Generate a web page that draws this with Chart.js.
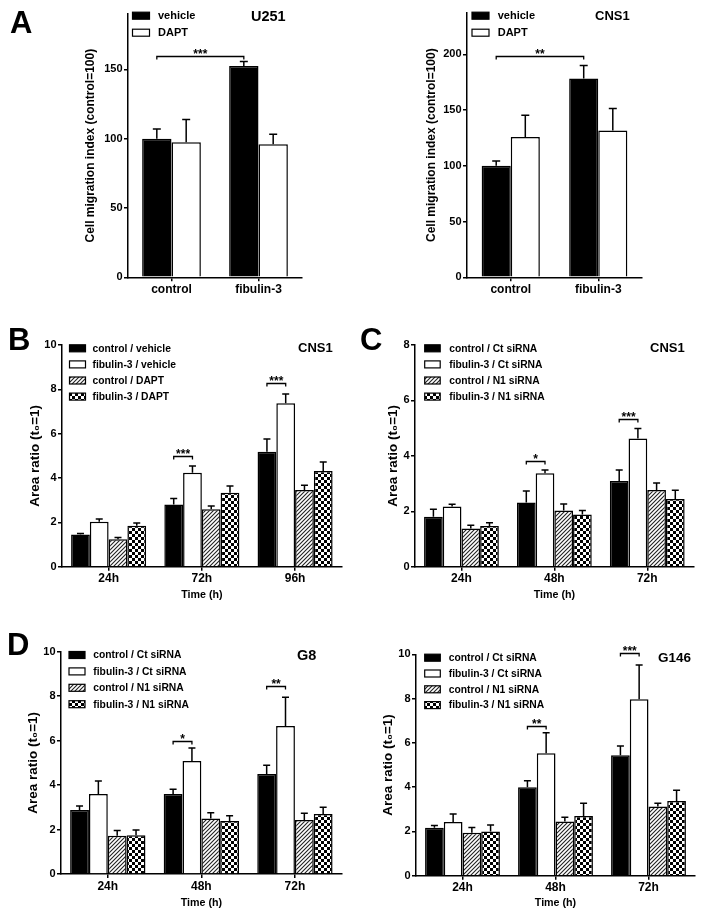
<!DOCTYPE html>
<html>
<head>
<meta charset="utf-8">
<script src="https://cdn.jsdelivr.net/npm/chart.js@4.4.1/dist/chart.umd.min.js"></script>
<style>
body { margin: 0; background: #fff; }
#page { position: relative; width: 704px; height: 918px; font-family: "Liberation Sans", Arial, sans-serif; color: #000; }
canvas { position: absolute; }
.lbl { position: absolute; font-weight: bold; font-size: 31px; line-height: 31px; }
.ttl { position: absolute; font-weight: bold; font-size: 14px; line-height: 14px; white-space: nowrap; }
</style>
</head>
<body>
<div id="page">
  <canvas id="cA1" width="352" height="300" style="left:0;top:0"></canvas>
  <canvas id="cA2" width="352" height="300" style="left:352px;top:0"></canvas>
  <canvas id="cB" width="352" height="310" style="left:0;top:300px"></canvas>
  <canvas id="cC" width="352" height="310" style="left:352px;top:300px"></canvas>
  <canvas id="cD1" width="352" height="308" style="left:0;top:610px"></canvas>
  <canvas id="cD2" width="352" height="308" style="left:352px;top:610px"></canvas>

  <div class="lbl" style="left:10px;top:7px">A</div>
  <div class="lbl" style="left:8px;top:324px">B</div>
  <div class="lbl" style="left:360px;top:324px">C</div>
  <div class="lbl" style="left:7px;top:629px">D</div>

  <div class="ttl" style="left:251px;top:9px;font-size:14.5px">U251</div>
  <div class="ttl" style="left:595px;top:9px;font-size:13px">CNS1</div>
  <div class="ttl" style="left:298px;top:341px;font-size:13px">CNS1</div>
  <div class="ttl" style="left:650px;top:341px;font-size:13px">CNS1</div>
  <div class="ttl" style="left:297px;top:648px;font-size:14.5px">G8</div>
  <div class="ttl" style="left:658px;top:651px;font-size:13.5px">G146</div>
</div>

<script>
// ---- data ----
const catA = ['control', 'fibulin-3'];
const legA = ['vehicle', 'DAPT'];

// A, U251 (control=100)
const u251Veh = [100, 152.5];
const u251VehErr = [7, 3.3];
const u251Dapt = [97.5, 96];
const u251DaptErr = [16.3, 7.3];

// A, CNS1
const cns1Veh = [100, 178.3];
const cns1VehErr = [4.2, 11.7];
const cns1Dapt = [125.7, 131.7];
const cns1DaptErr = [19.7, 19.7];

// B, CNS1 with DAPT
const catB = ['24h', '72h', '96h'];
const legB = ['control / vehicle', 'fibulin-3 / vehicle', 'control / DAPT', 'fibulin-3 / DAPT'];
const bCtrlVeh = [1.45, 2.81, 5.19];
const bCtrlVehErr = [0.05, 0.27, 0.57];
const bFibVeh = [2.03, 4.24, 7.37];
const bFibVehErr = [0.12, 0.30, 0.42];
const bCtrlDapt = [1.24, 2.59, 3.46];
const bCtrlDaptErr = [0.08, 0.15, 0.21];
const bFibDapt = [1.85, 3.34, 4.32];
const bFibDaptErr = [0.12, 0.30, 0.40];

// C, CNS1 with siRNA
const catSi = ['24h', '48h', '72h'];
const legSi = ['control / Ct siRNA', 'fibulin-3 / Ct siRNA', 'control / N1 siRNA', 'fibulin-3 / N1 siRNA'];
const cCtrlCt = [1.80, 2.32, 3.09];
const cCtrlCtErr = [0.27, 0.41, 0.40];
const cFibCt = [2.17, 3.37, 4.63];
const cFibCtErr = [0.08, 0.12, 0.36];
const cCtrlN1 = [1.38, 2.03, 2.77];
const cCtrlN1Err = [0.12, 0.23, 0.25];
const cFibN1 = [1.47, 1.88, 2.44];
const cFibN1Err = [0.12, 0.15, 0.32];

// D, G8
const g8CtrlCt = [2.88, 3.60, 4.50];
const g8CtrlCtErr = [0.18, 0.21, 0.39];
const g8FibCt = [3.60, 5.08, 6.66];
const g8FibCtErr = [0.58, 0.59, 1.29];
const g8CtrlN1 = [1.72, 2.50, 2.43];
const g8CtrlN1Err = [0.24, 0.26, 0.30];
const g8FibN1 = [1.74, 2.38, 2.70];
const g8FibN1Err = [0.24, 0.24, 0.30];

// D, G146
const g146CtrlCt = [2.17, 3.99, 5.44];
const g146CtrlCtErr = [0.10, 0.30, 0.42];
const g146FibCt = [2.42, 5.53, 7.97];
const g146FibCtErr = [0.37, 0.93, 1.55];
const g146CtrlN1 = [1.94, 2.45, 3.12];
const g146CtrlN1Err = [0.24, 0.19, 0.15];
const g146FibN1 = [2.00, 2.70, 3.37];
const g146FibN1Err = [0.29, 0.57, 0.49];

// significance brackets: a/b = [dataset, category], y = bracket value
const sigA1 = [{ a: [0, 0], b: [0, 1], y: 160, text: '***' }];
const sigA2 = [{ a: [0, 0], b: [0, 1], y: 198, text: '**' }];
const sigB = [{ a: [0, 1], b: [1, 1], y: 5.0, text: '***' }, { a: [0, 2], b: [1, 2], y: 8.3, text: '***' }];
const sigC = [{ a: [0, 1], b: [1, 1], y: 3.83, text: '*' }, { a: [0, 2], b: [1, 2], y: 5.33, text: '***' }];
const sigD1 = [{ a: [0, 1], b: [1, 1], y: 6.0, text: '*' }, { a: [0, 2], b: [1, 2], y: 8.46, text: '**' }];
const sigD2 = [{ a: [0, 1], b: [1, 1], y: 6.78, text: '**' }, { a: [0, 2], b: [1, 2], y: 10.04, text: '***' }];

// ---- drawing ----
const FONT = '"Liberation Sans", Arial, sans-serif';
Chart.defaults.font.family = FONT;
Chart.defaults.color = '#000';

function hatch() {
    const c = document.createElement('canvas');
    c.width = 4; c.height = 4;
    const g = c.getContext('2d');
    g.fillStyle = '#fff'; g.fillRect(0, 0, 4, 4);
    g.strokeStyle = '#222'; g.lineWidth = 1.1;
    g.beginPath();
    g.moveTo(0, 4); g.lineTo(4, 0);
    g.moveTo(-1, 1); g.lineTo(1, -1);
    g.moveTo(3, 5); g.lineTo(5, 3);
    g.stroke();
    return g.createPattern(c, 'repeat');
}

function checker() {
    const c = document.createElement('canvas');
    c.width = 6; c.height = 6;
    const g = c.getContext('2d');
    g.fillStyle = '#fff'; g.fillRect(0, 0, 6, 6);
    g.fillStyle = '#000';
    g.fillRect(0, 0, 3, 3); g.fillRect(3, 3, 3, 3);
    return g.createPattern(c, 'repeat');
}

const fills = ['#000', '#fff', hatch(), checker()];

const errorBars = {
    id: 'errorBars',
    afterDatasetsDraw(chart, args, o) {
        const ctx = chart.ctx, y = chart.scales.y;
        ctx.save();
        ctx.strokeStyle = '#000';
        ctx.lineWidth = 1.5;
        chart.data.datasets.forEach((ds, i) => {
            chart.getDatasetMeta(i).data.forEach((bar, j) => {
                const top = y.getPixelForValue(ds.data[j] + ds.errors[j]);
                ctx.beginPath();
                ctx.moveTo(bar.x, bar.y);
                ctx.lineTo(bar.x, top);
                ctx.moveTo(bar.x - o.cap / 2, top);
                ctx.lineTo(bar.x + o.cap / 2, top);
                ctx.stroke();
            });
        });
        ctx.restore();
    }
};

const sigBrackets = {
    id: 'sigBrackets',
    afterDatasetsDraw(chart, args, o) {
        const ctx = chart.ctx, y = chart.scales.y;
        ctx.save();
        ctx.strokeStyle = '#000';
        ctx.fillStyle = '#000';
        ctx.lineWidth = 1.3;
        ctx.font = 'bold 12px ' + FONT;
        ctx.textAlign = 'center';
        ctx.textBaseline = 'alphabetic';
        (o.items || []).forEach(it => {
            const x0 = chart.getDatasetMeta(it.a[0]).data[it.a[1]].x;
            const x1 = chart.getDatasetMeta(it.b[0]).data[it.b[1]].x;
            const py = Math.round(y.getPixelForValue(it.y)) + 0.5;
            ctx.beginPath();
            ctx.moveTo(x0, py + 3);
            ctx.lineTo(x0, py);
            ctx.lineTo(x1, py);
            ctx.lineTo(x1, py + 3);
            ctx.stroke();
            ctx.fillText(it.text, (x0 + x1) / 2, py + 1);
        });
        ctx.restore();
    }
};

const boxLegend = {
    id: 'boxLegend',
    afterDraw(chart, args, o) {
        const ctx = chart.ctx;
        ctx.save();
        ctx.font = 'bold ' + o.size + 'px ' + FONT;
        ctx.textBaseline = 'middle';
        chart.data.datasets.forEach((ds, i) => {
            const cy = o.y + i * o.rowH;
            ctx.fillStyle = ds.backgroundColor;
            ctx.fillRect(o.x, cy - o.boxH / 2, o.boxW, o.boxH);
            ctx.strokeStyle = '#000';
            ctx.lineWidth = 1.2;
            ctx.strokeRect(o.x, cy - o.boxH / 2, o.boxW, o.boxH);
            ctx.fillStyle = '#000';
            ctx.fillText(ds.label, o.x + o.boxW + o.gap, cy + 0.5);
        });
        ctx.restore();
    }
};

function makeChart(id, p) {
    const canvas = document.getElementById(id);
    const f = p.frame;
    const yT = p.yTitleSize * 1.2 / 2 + 4;
    const padLeft = f.yTitleX - yT;
    const yW = f.left - padLeft;
    let xH = 20;
    if (p.xTitle) xH = f.xTitleY - f.bottom + 10.7 * 1.2 / 2 + 4;
    const padBottom = canvas.height - f.bottom - xH;

    new Chart(canvas, {
        type: 'bar',
        data: {
            labels: p.labels,
            datasets: p.series.map((s, i) => ({
                label: p.legend[i],
                data: s[0],
                errors: s[1],
                backgroundColor: fills[i],
                borderColor: '#000',
                borderWidth: 1.5,
                categoryPercentage: p.catPct,
                barPercentage: 1.0
            }))
        },
        options: {
            responsive: false,
            animation: false,
            layout: { padding: { left: padLeft, top: f.top, right: canvas.width - f.right, bottom: padBottom } },
            plugins: {
                legend: { display: false },
                tooltip: { enabled: false },
                errorBars: { cap: p.cap },
                sigBrackets: { items: p.sig },
                boxLegend: p.leg
            },
            scales: {
                x: {
                    grid: { display: true, offset: false, drawOnChartArea: false, drawTicks: true, tickLength: 4, color: '#000', lineWidth: 1.5 },
                    border: { display: true, color: '#000', width: 1.5 },
                    ticks: { color: '#000', padding: 1, font: { size: 12, weight: 'bold' } },
                    title: { display: !!p.xTitle, text: p.xTitle || '', color: '#000', font: { size: 10.7, weight: 'bold' } },
                    afterFit: s => { s.height = xH; }
                },
                y: {
                    min: 0,
                    max: p.max,
                    grid: { display: true, drawOnChartArea: false, drawTicks: true, tickLength: 4, color: '#000', lineWidth: 1.5 },
                    border: { display: true, color: '#000', width: 1.5 },
                    ticks: { stepSize: p.step, includeBounds: false, color: '#000', padding: 1.5, font: { size: 11, weight: 'bold' } },
                    title: { display: true, text: p.yTitle, color: '#000', font: { size: p.yTitleSize, weight: 'bold' } },
                    afterFit: s => { s.width = yW; }
                }
            }
        },
        plugins: [errorBars, sigBrackets, boxLegend]
    });
}

const migTitle = 'Cell migration index (control=100)';
const areaTitle = 'Area ratio (t\u2080=1)';

makeChart('cA1', {
    labels: catA, legend: legA, max: 190, step: 50, catPct: 0.675, cap: 8,
    series: [[u251Veh, u251VehErr], [u251Dapt, u251DaptErr]],
    sig: sigA1, yTitle: migTitle, yTitleSize: 12,
    frame: { left: 128, right: 302, top: 14, bottom: 277.3, yTitleX: 91 },
    leg: { x: 132.5, y: 15.7, rowH: 17, boxW: 17, boxH: 7, gap: 8.5, size: 11 }
});

makeChart('cA2', {
    labels: catA, legend: legA, max: 237, step: 50, catPct: 0.665, cap: 8,
    series: [[cns1Veh, cns1VehErr], [cns1Dapt, cns1DaptErr]],
    sig: sigA2, yTitle: migTitle, yTitleSize: 12,
    frame: { left: 115, right: 290, top: 13, bottom: 277.3, yTitleX: 80 },
    leg: { x: 120, y: 15.7, rowH: 17, boxW: 17, boxH: 7, gap: 8.7, size: 11 }
});

makeChart('cB', {
    labels: catB, legend: legB, max: 10, step: 2, catPct: 0.805, cap: 7,
    series: [[bCtrlVeh, bCtrlVehErr], [bFibVeh, bFibVehErr], [bCtrlDapt, bCtrlDaptErr], [bFibDapt, bFibDaptErr]],
    sig: sigB, yTitle: areaTitle, yTitleSize: 13.5, xTitle: 'Time (h)',
    frame: { left: 62, right: 341.7, top: 45, bottom: 266.7, yTitleX: 35.5, xTitleY: 295 },
    leg: { x: 69.5, y: 48.3, rowH: 16.1, boxW: 16, boxH: 7, gap: 7, size: 10.3 }
});

makeChart('cC', {
    labels: catSi, legend: legSi, max: 8, step: 2, catPct: 0.805, cap: 7,
    series: [[cCtrlCt, cCtrlCtErr], [cFibCt, cFibCtErr], [cCtrlN1, cCtrlN1Err], [cFibN1, cFibN1Err]],
    sig: sigC, yTitle: areaTitle, yTitleSize: 13.5, xTitle: 'Time (h)',
    frame: { left: 63, right: 341.7, top: 45, bottom: 266.7, yTitleX: 41, xTitleY: 295 },
    leg: { x: 72.7, y: 48.3, rowH: 16.1, boxW: 15.5, boxH: 7, gap: 9, size: 10.3 }
});

makeChart('cD1', {
    labels: catSi, legend: legSi, max: 10, step: 2, catPct: 0.805, cap: 7,
    series: [[g8CtrlCt, g8CtrlCtErr], [g8FibCt, g8FibCtErr], [g8CtrlN1, g8CtrlN1Err], [g8FibN1, g8FibN1Err]],
    sig: sigD1, yTitle: areaTitle, yTitleSize: 13.5, xTitle: 'Time (h)',
    frame: { left: 61, right: 341.7, top: 41.7, bottom: 264, yTitleX: 33, xTitleY: 292.7 },
    leg: { x: 69, y: 45, rowH: 16.4, boxW: 16, boxH: 7, gap: 8.3, size: 10.3 }
});

makeChart('cD2', {
    labels: catSi, legend: legSi, max: 10, step: 2, catPct: 0.805, cap: 7,
    series: [[g146CtrlCt, g146CtrlCtErr], [g146FibCt, g146FibCtErr], [g146CtrlN1, g146CtrlN1Err], [g146FibN1, g146FibN1Err]],
    sig: sigD2, yTitle: areaTitle, yTitleSize: 13.5, xTitle: 'Time (h)',
    frame: { left: 64, right: 343, top: 44.3, bottom: 265.7, yTitleX: 36.7, xTitleY: 293.3 },
    leg: { x: 72.7, y: 47.7, rowH: 15.8, boxW: 15.6, boxH: 7, gap: 8.4, size: 10.3 }
});
</script>
</body>
</html>
